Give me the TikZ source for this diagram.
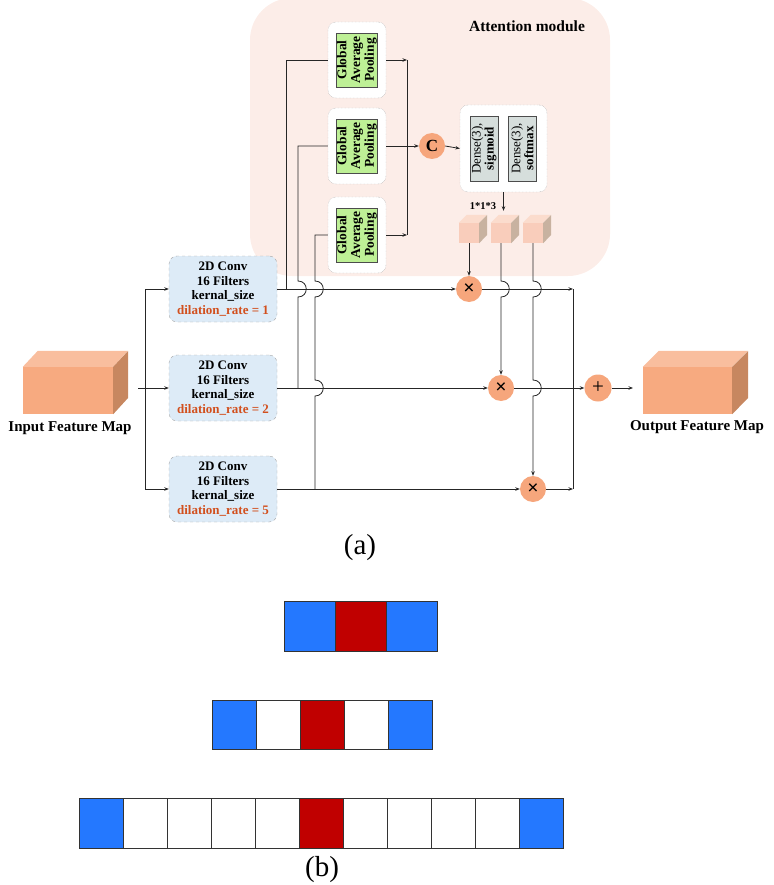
\documentclass[tikz,border=0pt]{standalone}
\usepackage{fontspec}
\setmainfont{Liberation Serif}
\usetikzlibrary{arrows.meta}
\definecolor{attbg}{RGB}{252,237,232}
\definecolor{convblue}{RGB}{221,235,247}
\definecolor{gapgreen}{RGB}{190,240,150}
\definecolor{densegrey}{RGB}{214,222,220}
\definecolor{dilc}{RGB}{210,80,30}
\definecolor{circ}{RGB}{246,166,124}
\definecolor{cubefront}{RGB}{247,170,128}
\definecolor{cubetop}{RGB}{249,190,158}
\definecolor{cubeside}{RGB}{199,135,96}
\definecolor{scfront}{RGB}{249,205,187}
\definecolor{sctop}{RGB}{251,220,205}
\definecolor{scside}{RGB}{200,178,160}
\definecolor{kb}{RGB}{36,120,255}
\definecolor{kr}{RGB}{192,0,0}
\tikzset{
  ln/.style={line width=0.8pt, draw=black!85},
  arr/.style={ln, -{Stealth[length=4.5pt,width=3.5pt]}},
  convbox/.style={draw=gray!70, dashed, fill=convblue, rounded corners=8pt, minimum width=108pt, minimum height=66pt, align=center, inner sep=0pt, font=\fontsize{13}{14.8}\selectfont\bfseries},
  outerbox/.style={draw=gray!70, densely dotted, fill=white, rounded corners=8pt, inner sep=0pt},
  gapin/.style={draw=black!70, fill=gapgreen, rotate=90, minimum width=54pt, minimum height=41pt, inner sep=0pt, align=center, font=\fontsize{13.5}{13.8}\selectfont\bfseries},
  densein/.style={draw=black!70, fill=densegrey, rotate=90, minimum width=65pt, minimum height=28pt, inner sep=0pt, align=center, font=\fontsize{13}{13}\selectfont},
  opcirc/.style={circle, fill=circ, minimum size=26pt, inner sep=0pt},
  bigfront/.style={fill=cubefront, minimum height=47pt, inner sep=0pt},
  smallfront/.style={fill=scfront, minimum width=20pt, minimum height=20pt, inner sep=0pt},
  lab/.style={font=\fontsize{15}{18}\selectfont\bfseries},
  mulsym/.style={font=\fontsize{20}{20}\selectfont\bfseries},
  cell/.style={draw=black!80, line width=0.8pt}
}
\begin{document}
\begin{tikzpicture}[x=1pt,y=-1pt]
\useasboundingbox (0,0) rectangle (773,885);
% attention module background
\fill[attbg, rounded corners=42pt] (250,-2) rectangle (610,276);
\node[font=\fontsize{15.5}{18}\selectfont\bfseries] (att) at (527,26) {Attention module};

% input cube
\node[bigfront, minimum width=90pt] (inF) at (68,390.5) {};
\fill[cubetop] (inF.north west) -- ++(15,-16) -- ++(90,0) -- (inF.north east) -- cycle;
\fill[cubeside] (inF.north east) -- ++(15,-16) -- ++(0,47) -- (inF.south east) -- cycle;
\node[lab] (inL) at (70,428) {Input Feature Map};

% output cube
\node[bigfront, minimum width=89pt] (outF) at (687.5,390.5) {};
\fill[cubetop] (outF.north west) -- ++(16,-16) -- ++(89,0) -- (outF.north east) -- cycle;
\fill[cubeside] (outF.north east) -- ++(16,-16) -- ++(0,47) -- (outF.south east) -- cycle;
\node[lab] (outL) at (697,427) {Output Feature Map};

% conv boxes
\node[convbox] (c1) at (223,289) {2D Conv\\16 Filters\\kernal\_size\\\textcolor{dilc}{dilation\_rate = 1}};
\node[convbox] (c2) at (223,388) {2D Conv\\16 Filters\\kernal\_size\\\textcolor{dilc}{dilation\_rate = 2}};
\node[convbox] (c3) at (223,489) {2D Conv\\16 Filters\\kernal\_size\\\textcolor{dilc}{dilation\_rate = 5}};

% GAP boxes
\node[outerbox, minimum width=58pt, minimum height=76pt] (g1) at (357,60) {};
\node[outerbox, minimum width=58pt, minimum height=76pt] (g2) at (357,146) {};
\node[outerbox, minimum width=58pt, minimum height=76pt] (g3) at (357,235) {};
\node[gapin] (gi1) at (g1) {Global\\Average\\Pooling};
\node[gapin] (gi2) at (g2) {Global\\Average\\Pooling};
\node[gapin] (gi3) at (g3) {Global\\Average\\Pooling};

% concat and dense
\node[opcirc, font=\fontsize{17}{17}\selectfont\bfseries] (cc) at (432,146) {C};
\node[outerbox, minimum width=87pt, minimum height=87pt] (dn) at (503.5,148.5) {};
\node[densein] (d1) at (484,148.5) {Dense(3),\\\textbf{sigmoid}};
\node[densein] (d2) at (522.5,148.5) {Dense(3),\\\textbf{softmax}};

% small weight cubes
\foreach \n/\x in {w1/469,w2/501,w3/533}{
  \node[smallfront] (\n) at (\x,233) {};
  \fill[sctop] (\n.north west) -- ++(8,-8) -- ++(20,0) -- (\n.north east) -- cycle;
  \fill[scside] (\n.north east) -- ++(8,-8) -- ++(0,20) -- (\n.south east) -- cycle;
}
\node[font=\fontsize{10.5}{12}\selectfont\bfseries] (lbl) at (483,206) {1*1*3};

% operators
\node[opcirc, mulsym] (m1) at (469,289) {×};
\node[opcirc, mulsym] (m2) at (501,388) {×};
\node[opcirc, mulsym] (m3) at (533,489) {×};
\node[opcirc, minimum size=27pt, font=\fontsize{21}{21}\selectfont] (pl) at (598,388) {+};

% coordinates
\coordinate (ino) at (138,388);
\coordinate (br) at (145,388);
\coordinate (j1) at (286,289);
\coordinate (j2) at (298,388);
\coordinate (j3) at (315,489);
\coordinate (col) at (407,0);
\coordinate (sx) at (573,0);
\coordinate (oo) at (633,388);
\coordinate (w2t) at ([shift={(2.5,-12)}]w2.north);

% input branches
\draw[arr] (ino) -- (c2.west);
\draw[arr] (br) |- (c1.west);
\draw[arr] (br) |- (c3.west);

% main rows
\draw[arr] (c1.east) -- (m1.west);
\draw[arr] (c2.east) -- (m2.west);
\draw[arr] (c3.east) -- (m3.west);

% to GAP
\draw[ln] (j1) |- (g1.west);
\draw[ln] (j2) -- (298,297) .. controls (309,297) and (309,281) .. (298,281) |- (g2.west);
\draw[ln] (j3) -- (315,396) .. controls (326,396) and (326,380) .. (315,380) -- (315,297) .. controls (326,297) and (326,281) .. (315,281) |- (g3.west);

% GAP outputs
\draw[arr] (g1.east) -- (g1.east -| col);
\draw[arr] (g3.east) -- (g3.east -| col);
\draw[ln] (g1.east -| col) -- (g3.east -| col);
\draw[arr] (g2.east) -- (cc.west);
\draw[arr] (cc.east) -- (dn.west);
\draw[arr] (dn.south) -- (dn.south |- w2t);

% weights to multipliers
\draw[arr] (w1.south) -- (m1.north);
\draw[arr] (w2.south) -- (501,281) .. controls (512,281) and (512,297) .. (501,297) -- (m2.north);
\draw[arr] (w3.south) -- (533,281) .. controls (544,281) and (544,297) .. (533,297) -- (533,380) .. controls (544,380) and (544,396) .. (533,396) -- (m3.north);

% collector
\draw[arr] (m1.east) -- (m1.east -| sx);
\draw[arr] (m3.east) -- (m3.east -| sx);
\draw[ln] (m1.east -| sx) -- (m3.east -| sx);
\draw[arr] (m2.east) -- (pl.west);
\draw[arr] (pl.east) -- (oo);

% caption a
\node[font=\fontsize{29}{30}\selectfont] (capa) at (360,548) {(a)};

% dilation grids
\foreach \i/\c in {0/kb,1/kr,2/kb}
  \filldraw[cell, fill=\c] (284+51*\i,601) rectangle ++(51,50);
\foreach \i/\c in {0/kb,1/white,2/kr,3/white,4/kb}
  \filldraw[cell, fill=\c] (212+44*\i,700) rectangle ++(44,49);
\foreach \i/\c in {0/kb,1/white,2/white,3/white,4/white,5/kr,6/white,7/white,8/white,9/white,10/kb}
  \filldraw[cell, fill=\c] (79+44*\i,798) rectangle ++(44,50);

\node[font=\fontsize{29}{30}\selectfont] (capb) at (322,870) {(b)};
\end{tikzpicture}
\end{document}
